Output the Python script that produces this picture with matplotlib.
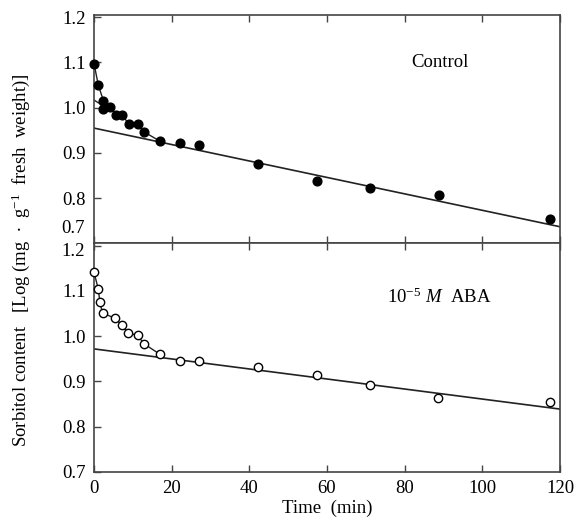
import matplotlib.pyplot as plt
import numpy as np

plt.rcParams['font.family'] = ['Liberation Serif', 'DejaVu Serif']
plt.rcParams['mathtext.fontset'] = 'custom'
plt.rcParams['mathtext.rm'] = 'Liberation Serif'
plt.rcParams['mathtext.it'] = 'Liberation Serif:italic'

# control (filled)
ctrl_t = [0, 1.1, 2.4, 2.4, 4.1, 5.7, 7.1, 8.9, 11.2, 12.8, 17, 22.1, 27.1, 42.3, 57.3, 71.1, 88.9, 117.5]
ctrl_v = [1.097, 1.050, 1.016, 0.998, 1.002, 0.985, 0.985, 0.965, 0.963, 0.947, 0.926, 0.921, 0.917,
          0.876, 0.839, 0.822, 0.807, 0.754]
ctrl_fit = [0.955, 0.737]  # line value at t=0 and t=120
ctrl_fast_t = [0, 2.4]
ctrl_fast_v = [1.017, 1.004]

# ABA (open)
aba_t = [0, 1.1, 1.5, 2.2, 5.4, 7.1, 8.8, 11.2, 12.9, 17, 22.1, 27.1, 42.3, 57.5, 71, 88.5, 117.5]
aba_v = [1.141, 1.104, 1.075, 1.051, 1.040, 1.025, 1.007, 1.002, 0.983, 0.960, 0.945, 0.946,
         0.931, 0.915, 0.893, 0.863, 0.854]
aba_fit = [0.972, 0.839]

fit_t = [0, 120]

fig, (ax1, ax2) = plt.subplots(2, 1, figsize=(5.77, 5.26), dpi=100, sharex=True)
fig.subplots_adjust(left=0.163, right=0.9705, top=0.9715, bottom=0.1027, hspace=0)

fs = 13.5
lc = '#222222'
# top panel
n1 = sum(1 for t in ctrl_t if t <= 17)
ax1.plot(ctrl_t[:n1], ctrl_v[:n1], color=lc, lw=1.0, zorder=2)
ax1.plot(ctrl_fast_t, ctrl_fast_v, color=lc, lw=1.0, zorder=2)
ax1.plot(fit_t, ctrl_fit, color=lc, lw=1.2, zorder=2)
ax1.plot(ctrl_t, ctrl_v, 'o', color='black', ms=6.3, zorder=3, clip_on=False)
ax1.text(89, 1.1, 'Control', ha='center', va='center', fontsize=fs)

# bottom panel
n2 = sum(1 for t in aba_t if t <= 17)
ax2.plot(aba_t[:n2], aba_v[:n2], color=lc, lw=1.0, zorder=2)
ax2.plot(fit_t, aba_fit, color=lc, lw=1.2, zorder=2)
ax2.plot(aba_t, aba_v, 'o', mfc='white', mec='black', mew=1.0, ms=6, zorder=3, clip_on=False)
ax2.text(89, 1.085, r'10$^{-5}$ $\mathit{M}$  ABA', ha='center', va='center', fontsize=fs)

for ax in (ax1, ax2):
    ax.set_xlim(0, 120)
    ax.set_ylim(0.7, 1.205)
    ax.tick_params(direction='in', top=True, right=False, labelsize=fs, length=5, width=1,
                   color='#444444', pad=6)
    for s in ax.spines.values():
        s.set_color('#444444')
        s.set_linewidth(1.2)

ax1.set_yticks([0.7, 0.8, 0.9, 1.0, 1.1, 1.2])
ax1.set_yticklabels(['', '0.8', '0.9', '1.0', '1.1', '1.2'])
ax1.text(-2.3, 0.733, '0.7', ha='right', va='center', fontsize=fs)
ax2.set_yticks([0.7, 0.8, 0.9, 1.0, 1.1, 1.2])
ax2.set_yticklabels(['0.7', '0.8', '0.9', '1.0', '1.1', ''])
ax2.text(-2.3, 1.187, '1.2', ha='right', va='center', fontsize=fs)

ax2.set_xticks([0, 20, 40, 60, 80, 100, 120])
ax2.set_xlabel('Time  (min)', fontsize=fs, labelpad=2)
fig.text(0.036, 0.505,
         r'Sorbitol content   [Log (mg  $\bullet$  g$^{-1}$  fresh  weight)]',
         rotation=90, ha='center', va='center', fontsize=fs)

fig.savefig('out.png', dpi=100)
